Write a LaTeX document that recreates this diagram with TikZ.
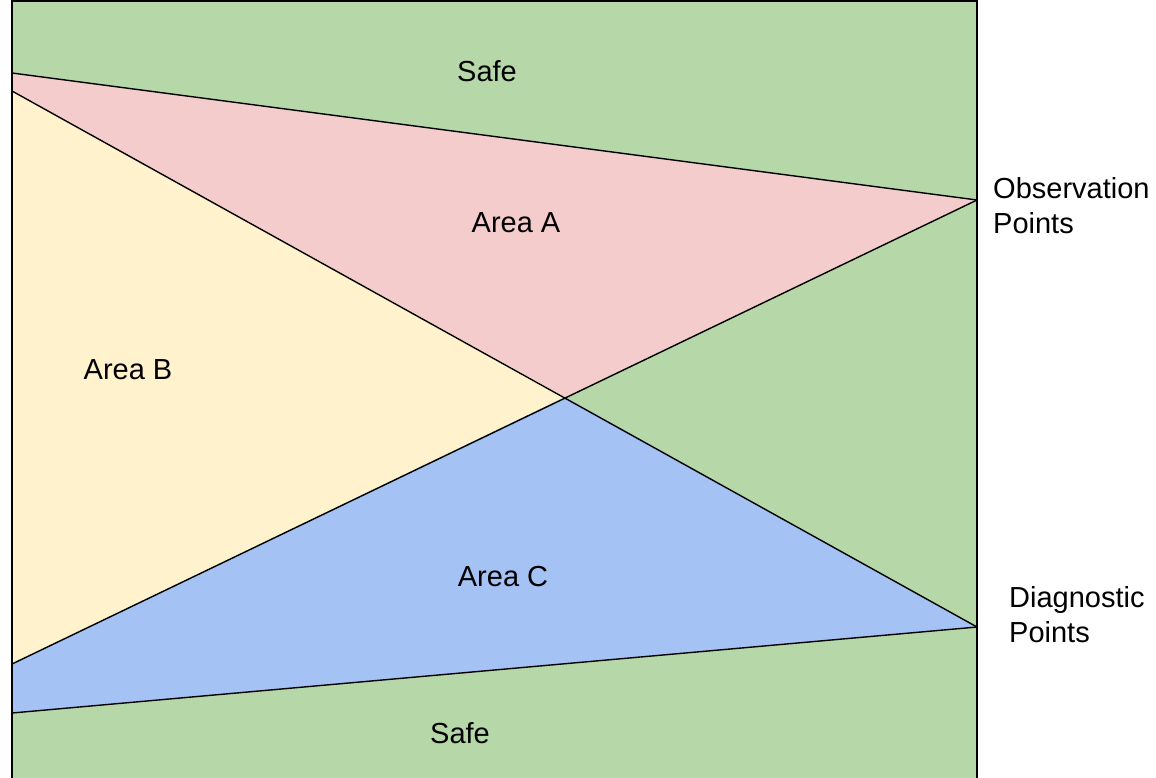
\documentclass[tikz,border=0pt]{standalone}
\usepackage{fontspec}
\setmainfont{Liberation Sans}
\definecolor{gsafe}{HTML}{B6D7A8}
\definecolor{gareaA}{HTML}{F4CCCC}
\definecolor{gareaB}{HTML}{FFF2CC}
\definecolor{gareaC}{HTML}{A4C2F4}
\begin{document}
\begin{tikzpicture}[x=1pt,y=-1pt,
  lbl/.style={font=\fontsize{29}{35}\selectfont, inner sep=0pt},
  side/.style={lbl, align=left, anchor=west},
  edge/.style={draw=black, line width=1.4pt}]
\useasboundingbox (0,0) rectangle (1156,777);
\begin{scope}
\clip (0,0) rectangle (1156,777);
% coordinates
\coordinate (TL) at (12,1);
\coordinate (TR) at (977,1);
\coordinate (BL) at (12,790);
\coordinate (BR) at (977,790);
\coordinate (a1) at (12,73);
\coordinate (b1) at (12,91);
\coordinate (obs) at (977,200);
\coordinate (ctr) at (565,397);
\coordinate (diag) at (977,627);
\coordinate (b2) at (12,664);
\coordinate (c2) at (12,713);
% background
\fill[gsafe] (TL) rectangle (BR);
\fill[gareaA] (a1) -- (obs) -- (ctr) -- (b1) -- cycle;
\fill[gareaB] (b1) -- (ctr) -- (b2) -- cycle;
\fill[gareaC] (ctr) -- (diag) -- (c2) -- (b2) -- cycle;
% lines
\draw[edge] (a1) -- (obs);
\draw[edge] (b1) -- (diag);
\draw[edge] (b2) -- (obs);
\draw[edge] (c2) -- (diag);
\draw[edge] (BL) -- (TL) -- (TR) -- (BR);
\end{scope}
% labels
\node[lbl] (safeT) at (487,71) {Safe};
\node[lbl] (areaA) at (516,223) {Area A};
\node[lbl] (areaB) at (128,370) {Area B};
\node[lbl] (areaC) at (503,577) {Area C};
\node[lbl] (safeB) at (460,733) {Safe};
\node[side] (obsl) at (993,206) {Observation\\Points};
\node[side] (diagl) at (1009,615) {Diagnostic\\Points};
\end{tikzpicture}
\end{document}
